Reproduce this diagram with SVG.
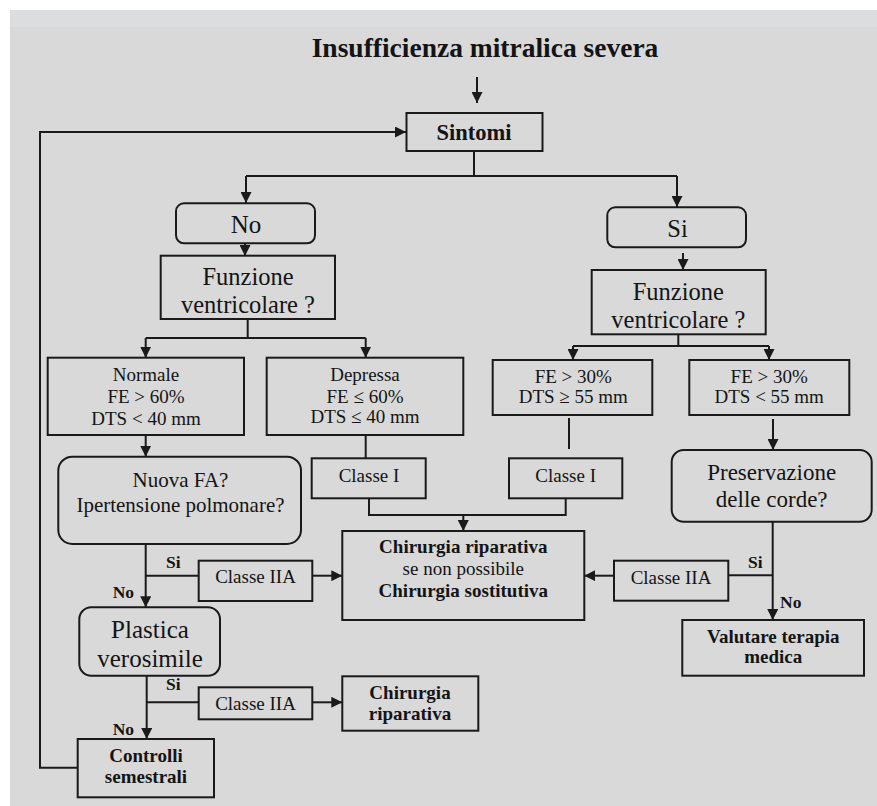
<svg xmlns="http://www.w3.org/2000/svg" width="877" height="806" viewBox="0 0 877 806">
<style>
.bx{fill:none;stroke:#1a1a1a;stroke-width:2}
.ln{fill:none;stroke:#1a1a1a;stroke-width:2}
text{font-family:"Liberation Serif","Times New Roman",serif;fill:#141414;text-anchor:middle}
.b{font-weight:bold}
.lb{font-weight:bold;font-size:17.5px;text-anchor:start}
.s19{font-size:19px}
</style>
<defs>
<marker id="ah" markerUnits="userSpaceOnUse" markerWidth="12" markerHeight="11" refX="11" refY="5.5" orient="auto">
<path d="M0,0 L11,5.5 L0,11 Z" fill="#1a1a1a"/>
</marker>
</defs>
<rect x="0" y="0" width="877" height="806" fill="#ffffff"/>
<rect x="10" y="10" width="867" height="796" fill="#d9d9d9"/>
<rect x="10" y="10" width="867" height="17" fill="#dcdddf"/>

<text id="title" class="b" x="485" y="57" font-size="27.5">Insufficienza mitralica severa</text>

<g id="connectors">
<line class="ln" x1="477" y1="77" x2="477" y2="103" marker-end="url(#ah)"/>
<polyline class="ln" points="78,767.7 40,767.7 40,132 406,132" marker-end="url(#ah)"/>
<polyline class="ln" points="474,151 474,176"/>
<line class="ln" x1="246" y1="176" x2="677" y2="176"/>
<line class="ln" x1="246" y1="176" x2="246" y2="203" marker-end="url(#ah)"/>
<line class="ln" x1="677" y1="176" x2="677" y2="207" marker-end="url(#ah)"/>
<line class="ln" x1="245" y1="243" x2="245" y2="256" marker-end="url(#ah)"/>
<line class="ln" x1="247.7" y1="319" x2="247.7" y2="338"/>
<line class="ln" x1="145.7" y1="338" x2="365.7" y2="338"/>
<line class="ln" x1="145.7" y1="338" x2="145.7" y2="357.7" marker-end="url(#ah)"/>
<line class="ln" x1="365.7" y1="338" x2="365.7" y2="357.7" marker-end="url(#ah)"/>
<line class="ln" x1="683" y1="253" x2="683" y2="270" marker-end="url(#ah)"/>
<line class="ln" x1="678.3" y1="334" x2="678.3" y2="346"/>
<line class="ln" x1="573" y1="346" x2="769" y2="346"/>
<line class="ln" x1="573" y1="346" x2="573" y2="360" marker-end="url(#ah)"/>
<line class="ln" x1="769" y1="346" x2="769" y2="360" marker-end="url(#ah)"/>
<line class="ln" x1="569" y1="418" x2="569" y2="449"/>
<line class="ln" x1="773" y1="419" x2="773" y2="450" marker-end="url(#ah)"/>
<line class="ln" x1="145.7" y1="435" x2="145.7" y2="456.7" marker-end="url(#ah)"/>
<line class="ln" x1="365.7" y1="435" x2="365.7" y2="458.3"/>
<polyline class="ln" points="369,498.3 369,515 565.7,515 565.7,498.3"/>
<line class="ln" x1="463.3" y1="515" x2="463.3" y2="531" marker-end="url(#ah)"/>
<line class="ln" x1="145.7" y1="544" x2="145.7" y2="607.3" marker-end="url(#ah)"/>
<line class="ln" x1="145.7" y1="575.7" x2="198.7" y2="575.7"/>
<line class="ln" x1="312.3" y1="575.7" x2="342.3" y2="575.7" marker-end="url(#ah)"/>
<line class="ln" x1="146.7" y1="675.7" x2="146.7" y2="739" marker-end="url(#ah)"/>
<line class="ln" x1="146.7" y1="702.3" x2="198.7" y2="702.3"/>
<line class="ln" x1="312.3" y1="702.3" x2="342.3" y2="702.3" marker-end="url(#ah)"/>
<line class="ln" x1="772.7" y1="521.7" x2="772.7" y2="620" marker-end="url(#ah)"/>
<line class="ln" x1="772.7" y1="575.3" x2="728.3" y2="575.3"/>
<line class="ln" x1="614" y1="575.7" x2="584.3" y2="575.7" marker-end="url(#ah)"/>
<text class="lb" x="166" y="568.3">Si</text>
<text class="lb" x="112.7" y="598.3">No</text>
<text class="lb" x="166" y="690">Si</text>
<text class="lb" x="112.7" y="735">No</text>
<text class="lb" x="748" y="568.3">Si</text>
<text class="lb" x="780" y="608.3">No</text>
</g>

<g id="sintomi">
<rect class="bx" x="406.5" y="113" width="136" height="38"/>
<text class="b" x="474" y="140" font-size="22.5">Sintomi</text>
</g>

<g id="no">
<rect class="bx" x="176" y="203.3" width="139" height="40" rx="8"/>
<text x="246" y="233.3" font-size="25">No</text>
</g>

<g id="si">
<rect class="bx" x="607.3" y="207.3" width="138.7" height="40" rx="8"/>
<text x="677.5" y="236.7" font-size="24.5">Si</text>
</g>

<g id="funzione-left">
<rect class="bx" x="160.7" y="255.7" width="174.3" height="63.3"/>
<text x="248" y="285" font-size="24.5">Funzione</text>
<text x="248" y="313.3" font-size="24.5">ventricolare ?</text>
</g>

<g id="funzione-right">
<rect class="bx" x="591.7" y="270" width="174" height="64.3"/>
<text x="678.3" y="300" font-size="24.5">Funzione</text>
<text x="678.3" y="327.7" font-size="24.5">ventricolare ?</text>
</g>

<g id="normale">
<rect class="bx" x="47.7" y="357.7" width="196.3" height="77.3"/>
<text class="s19" x="146" y="381">Normale</text>
<text class="s19" x="146" y="403.3">FE &gt; 60%</text>
<text class="s19" x="146" y="425">DTS &lt; 40 mm</text>
</g>

<g id="depressa">
<rect class="bx" x="266.7" y="357.7" width="196.6" height="77.3"/>
<text class="s19" x="365" y="380.7">Depressa</text>
<text class="s19" x="365" y="402.7">FE ≤ 60%</text>
<text class="s19" x="365" y="423.3">DTS ≤ 40 mm</text>
</g>

<g id="fe30-dts-ge55">
<rect class="bx" x="492.7" y="360" width="159.6" height="55"/>
<text class="s19" x="573.3" y="382.7">FE &gt; 30%</text>
<text class="s19" x="573.3" y="403.3">DTS ≥ 55 mm</text>
</g>

<g id="fe30-dts-lt55">
<rect class="bx" x="689.3" y="360" width="160" height="55"/>
<text class="s19" x="769.2" y="382.7">FE &gt; 30%</text>
<text class="s19" x="769.2" y="403.3">DTS &lt; 55 mm</text>
</g>

<g id="classe-i-left">
<rect class="bx" x="311.7" y="458.3" width="114" height="40"/>
<text class="s19" x="369" y="481.7">Classe I</text>
</g>

<g id="classe-i-right">
<rect class="bx" x="509" y="458.3" width="113.3" height="40"/>
<text class="s19" x="565.7" y="481.7">Classe I</text>
</g>

<g id="nuova-fa">
<rect class="bx" x="58.3" y="456.7" width="242.7" height="87.3" rx="14"/>
<text x="180.5" y="486.7" font-size="21">Nuova FA?</text>
<text x="180.5" y="511.7" font-size="21">Ipertensione polmonare?</text>
</g>

<g id="preservazione">
<rect class="bx" x="671.7" y="450" width="200" height="71.7" rx="12"/>
<text x="771.7" y="480" font-size="23">Preservazione</text>
<text x="771.7" y="506.7" font-size="23">delle corde?</text>
</g>

<g id="chirurgia">
<rect class="bx" x="342.3" y="531" width="242" height="89"/>
<text class="b s19" x="463.3" y="553.3">Chirurgia riparativa</text>
<text class="s19" x="463.3" y="575">se non possibile</text>
<text class="b s19" x="463.3" y="596.7">Chirurgia sostitutiva</text>
</g>

<g id="classe-iia-1">
<rect class="bx" x="198.7" y="560.7" width="113.6" height="40.3"/>
<text class="s19" x="255.5" y="583.3">Classe IIA</text>
</g>

<g id="classe-iia-right">
<rect class="bx" x="614" y="560.7" width="114.3" height="40"/>
<text class="s19" x="671" y="584.3">Classe IIA</text>
</g>

<g id="valutare">
<rect class="bx" x="682.3" y="620" width="181.7" height="55.7"/>
<text class="b s19" x="773.3" y="643.3">Valutare terapia</text>
<text class="b s19" x="773.3" y="663.3">medica</text>
</g>

<g id="plastica">
<rect class="bx" x="79.3" y="607.3" width="140.7" height="68.4" rx="12"/>
<text x="150" y="638.3" font-size="25">Plastica</text>
<text x="150" y="666.7" font-size="25">verosimile</text>
</g>

<g id="classe-iia-2">
<rect class="bx" x="198.7" y="687.3" width="113.6" height="32"/>
<text class="s19" x="255.5" y="710">Classe IIA</text>
</g>

<g id="chirurgia-riparativa">
<rect class="bx" x="342.3" y="676.3" width="136" height="54.4"/>
<text class="b s19" x="410" y="699.3">Chirurgia</text>
<text class="b s19" x="410" y="720">riparativa</text>
</g>

<g id="controlli">
<rect class="bx" x="77.7" y="739" width="136.3" height="58.3"/>
<text class="b s19" x="146" y="761.7">Controlli</text>
<text class="b s19" x="146" y="783.3">semestrali</text>
</g>
</svg>
